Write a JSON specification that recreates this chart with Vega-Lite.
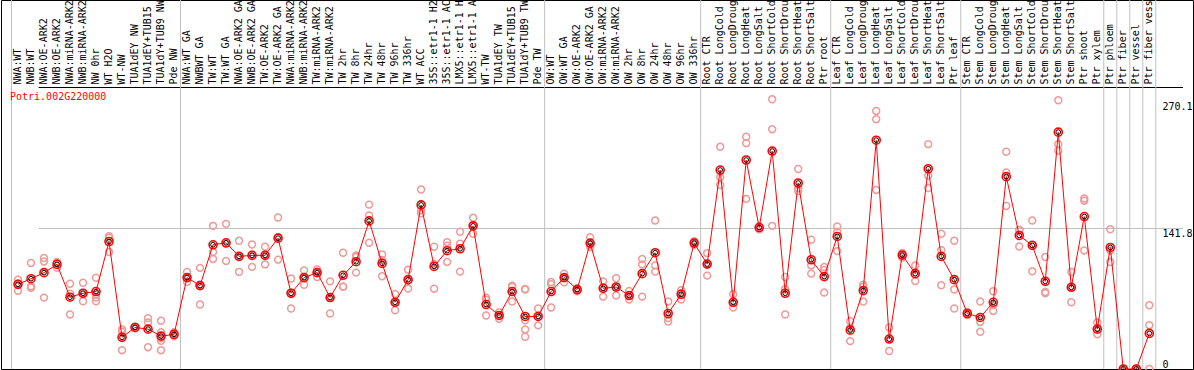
{
  "$schema": "https://vega.github.io/schema/vega-lite/v6.json",
  "width": 1192,
  "height": 369,
  "autosize": {"type": "none"},
  "padding": {"left": 1, "right": 1, "top": 0, "bottom": 1},
  "background": "white",
  "config": {
    "view": {"stroke": "black", "strokeWidth": 1},
    "font": "DejaVu Sans Mono",
    "axis": {"labelFont": "DejaVu Sans Mono", "labelFontSize": 10, "labelColor": "black", "title": null, "ticks": false, "tickSize": 0, "domain": false}
  },
  "datasets": {
    "means": [
      {"s": "NWA:WT", "v": 85.4}, {"s": "NWB:WT", "v": 91.1}, {"s": "NWA:OE-ARK2", "v": 97.2}, {"s": "NWB:OE-ARK2", "v": 105.5},
      {"s": "NWA:miRNA-ARK2", "v": 72.4}, {"s": "NWB:miRNA-ARK2", "v": 76.4}, {"s": "NW 0hr", "v": 78.1}, {"s": "WT H2O", "v": 128.6},
      {"s": "WT-NW", "v": 31.9}, {"s": "TUA1dEY NW", "v": 41.9}, {"s": "TUA1dEY+TUB15 NW", "v": 40.2}, {"s": "TUA1dY+TUB9 NW", "v": 33.2},
      {"s": "Pde NW", "v": 34.9}, {"s": "NWA:WT GA", "v": 92.2}, {"s": "NWBWT GA", "v": 84.1}, {"s": "TW:WT", "v": 125.3},
      {"s": "TW:WT GA", "v": 127.3}, {"s": "NWA:OE-ARK2 GA", "v": 113.6}, {"s": "NWB:OE-ARK2 GA", "v": 114.6}, {"s": "TW:OE-ARK2", "v": 114.6},
      {"s": "TW:OE-ARK2 GA", "v": 132}, {"s": "NWA:miRNA-ARK2 GA", "v": 76.4}, {"s": "NWB:miRNA-ARK2 GA", "v": 92.2}, {"s": "TW:miRNA-ARK2", "v": 97.2},
      {"s": "TW:miRNA-ARK2 GA", "v": 72.1}, {"s": "TW 2hr", "v": 94.5}, {"s": "TW 8hr", "v": 108.2}, {"s": "TW 24hr", "v": 149.4},
      {"s": "TW 48hr", "v": 106.5}, {"s": "TW 96hr", "v": 67.3}, {"s": "TW 336hr", "v": 90.1}, {"s": "WT ACC", "v": 165.5},
      {"s": "35S::etr1-1 H2O", "v": 103.5}, {"s": "35S::etr1-1 ACC", "v": 119.3}, {"s": "LMX5::etr1-1 H2O", "v": 121.3}, {"s": "LMX5::etr1-1 ACC", "v": 144.4},
      {"s": "WT-TW", "v": 65}, {"s": "TUA1dEY TW", "v": 54}, {"s": "TUA1dEY+TUB15 TW", "v": 78.1}, {"s": "TUA1dY+TUB9 TW", "v": 53},
      {"s": "Pde TW", "v": 53}, {"s": "OW:WT", "v": 78.1}, {"s": "OW:WT GA", "v": 92.2}, {"s": "OW:OE-ARK2", "v": 80.1},
      {"s": "OW:OE-ARK2 GA", "v": 127}, {"s": "OW:miRNA-ARK2", "v": 81.4}, {"s": "OW:miRNA-ARK2 GA", "v": 82.7}, {"s": "OW 2hr", "v": 74.1},
      {"s": "OW 8hr", "v": 96.2}, {"s": "OW 24hr", "v": 117.3}, {"s": "OW 48hr", "v": 56}, {"s": "OW 96hr", "v": 75.4},
      {"s": "OW 336hr", "v": 127}, {"s": "Root CTR", "v": 105.8}, {"s": "Root LongCold", "v": 200.7}, {"s": "Root LongDrought", "v": 67.3},
      {"s": "Root LongHeat", "v": 210.8}, {"s": "Root LongSalt", "v": 142.7}, {"s": "Root ShortCold", "v": 219.8}, {"s": "Root ShortDrought", "v": 76.4},
      {"s": "Root ShortHeat", "v": 187.6}, {"s": "Root ShortSalt", "v": 110.2}, {"s": "Ptr root", "v": 93.2}, {"s": "Leaf CTR", "v": 133.7},
      {"s": "Leaf LongCold", "v": 39.2}, {"s": "Leaf LongDrought", "v": 79.1}, {"s": "Leaf LongHeat", "v": 230.8}, {"s": "Leaf LongSalt", "v": 30.2},
      {"s": "Leaf ShortCold", "v": 114.9}, {"s": "Leaf ShortDrought", "v": 96.2}, {"s": "Leaf ShortHeat", "v": 202}, {"s": "Leaf ShortSalt", "v": 113.6},
      {"s": "Ptr leaf", "v": 90.1}, {"s": "Stem CTR", "v": 56}, {"s": "Stem LongCold", "v": 52}, {"s": "Stem LongDrought", "v": 67.3},
      {"s": "Stem LongHeat", "v": 194}, {"s": "Stem LongSalt", "v": 134.7}, {"s": "Stem ShortCold", "v": 124.6}, {"s": "Stem ShortDrought", "v": 88.4},
      {"s": "Stem ShortHeat", "v": 238.9}, {"s": "Stem ShortSalt", "v": 82.4}, {"s": "Ptr shoot", "v": 153.8}, {"s": "Ptr xylem", "v": 40.2},
      {"s": "Ptr phloem", "v": 122.6}, {"s": "Ptr fiber", "v": 0}, {"s": "Ptr vessel", "v": 0}, {"s": "Ptr fiber vessel", "v": 35.9}
    ],
    "reps": [
      {"s": "NWA:WT", "v": 90}, {"s": "NWA:WT", "v": 86}, {"s": "NWA:WT", "v": 79},
      {"s": "NWB:WT", "v": 107}, {"s": "NWB:WT", "v": 83.4}, {"s": "NWB:WT", "v": 82},
      {"s": "NWA:OE-ARK2", "v": 112}, {"s": "NWA:OE-ARK2", "v": 108.5}, {"s": "NWA:OE-ARK2", "v": 72},
      {"s": "NWB:OE-ARK2", "v": 108}, {"s": "NWB:OE-ARK2", "v": 102}, {"s": "NWB:OE-ARK2", "v": 107},
      {"s": "NWA:miRNA-ARK2", "v": 86}, {"s": "NWA:miRNA-ARK2", "v": 76}, {"s": "NWA:miRNA-ARK2", "v": 55},
      {"s": "NWB:miRNA-ARK2", "v": 87}, {"s": "NWB:miRNA-ARK2", "v": 76.7}, {"s": "NWB:miRNA-ARK2", "v": 68.3},
      {"s": "NW 0hr", "v": 92}, {"s": "NW 0hr", "v": 75.4}, {"s": "NW 0hr", "v": 72}, {"s": "NW 0hr", "v": 68.3},
      {"s": "WT H2O", "v": 134}, {"s": "WT H2O", "v": 132.4}, {"s": "WT H2O", "v": 118},
      {"s": "WT-NW", "v": 40}, {"s": "WT-NW", "v": 37.5}, {"s": "WT-NW", "v": 19},
      {"s": "TUA1dEY NW", "v": 43}, {"s": "TUA1dEY NW", "v": 42}, {"s": "TUA1dEY NW", "v": 41},
      {"s": "TUA1dEY+TUB15 NW", "v": 51.3}, {"s": "TUA1dEY+TUB15 NW", "v": 47}, {"s": "TUA1dEY+TUB15 NW", "v": 22},
      {"s": "TUA1dY+TUB9 NW", "v": 48.6}, {"s": "TUA1dY+TUB9 NW", "v": 37}, {"s": "TUA1dY+TUB9 NW", "v": 31}, {"s": "TUA1dY+TUB9 NW", "v": 28.5}, {"s": "TUA1dY+TUB9 NW", "v": 19},
      {"s": "Pde NW", "v": 37}, {"s": "Pde NW", "v": 35}, {"s": "Pde NW", "v": 33},
      {"s": "NWA:WT GA", "v": 97.8}, {"s": "NWA:WT GA", "v": 92.2}, {"s": "NWA:WT GA", "v": 87.7},
      {"s": "NWBWT GA", "v": 102}, {"s": "NWBWT GA", "v": 85}, {"s": "NWBWT GA", "v": 65},
      {"s": "TW:WT", "v": 144.4}, {"s": "TW:WT", "v": 118}, {"s": "TW:WT", "v": 111},
      {"s": "TW:WT GA", "v": 146.4}, {"s": "TW:WT GA", "v": 126.3}, {"s": "TW:WT GA", "v": 109},
      {"s": "NWA:OE-ARK2 GA", "v": 129.3}, {"s": "NWA:OE-ARK2 GA", "v": 113.3}, {"s": "NWA:OE-ARK2 GA", "v": 98},
      {"s": "NWB:OE-ARK2 GA", "v": 125.6}, {"s": "NWB:OE-ARK2 GA", "v": 115.4}, {"s": "NWB:OE-ARK2 GA", "v": 103},
      {"s": "TW:OE-ARK2", "v": 123.3}, {"s": "TW:OE-ARK2", "v": 115}, {"s": "TW:OE-ARK2", "v": 105.5},
      {"s": "TW:OE-ARK2 GA", "v": 152.8}, {"s": "TW:OE-ARK2 GA", "v": 133}, {"s": "TW:OE-ARK2 GA", "v": 110.3},
      {"s": "NWA:miRNA-ARK2 GA", "v": 91.2}, {"s": "NWA:miRNA-ARK2 GA", "v": 77}, {"s": "NWA:miRNA-ARK2 GA", "v": 61},
      {"s": "NWB:miRNA-ARK2 GA", "v": 99.5}, {"s": "NWB:miRNA-ARK2 GA", "v": 92}, {"s": "NWB:miRNA-ARK2 GA", "v": 85},
      {"s": "TW:miRNA-ARK2", "v": 100.5}, {"s": "TW:miRNA-ARK2", "v": 98}, {"s": "TW:miRNA-ARK2", "v": 92.8},
      {"s": "TW:miRNA-ARK2 GA", "v": 88.4}, {"s": "TW:miRNA-ARK2 GA", "v": 72}, {"s": "TW:miRNA-ARK2 GA", "v": 56},
      {"s": "TW 2hr", "v": 117.3}, {"s": "TW 2hr", "v": 83.1}, {"s": "TW 2hr", "v": 83},
      {"s": "TW 8hr", "v": 114.6}, {"s": "TW 8hr", "v": 113}, {"s": "TW 8hr", "v": 97.2},
      {"s": "TW 24hr", "v": 165.8}, {"s": "TW 24hr", "v": 154.8}, {"s": "TW 24hr", "v": 127.3},
      {"s": "TW 48hr", "v": 115.6}, {"s": "TW 48hr", "v": 110}, {"s": "TW 48hr", "v": 93.5},
      {"s": "TW 96hr", "v": 75.7}, {"s": "TW 96hr", "v": 67}, {"s": "TW 96hr", "v": 59.3},
      {"s": "TW 336hr", "v": 100.2}, {"s": "TW 336hr", "v": 89}, {"s": "TW 336hr", "v": 81.1},
      {"s": "WT ACC", "v": 181}, {"s": "WT ACC", "v": 160}, {"s": "WT ACC", "v": 157},
      {"s": "35S::etr1-1 H2O", "v": 123.3}, {"s": "35S::etr1-1 H2O", "v": 106}, {"s": "35S::etr1-1 H2O", "v": 81},
      {"s": "35S::etr1-1 ACC", "v": 128}, {"s": "35S::etr1-1 ACC", "v": 124.3}, {"s": "35S::etr1-1 ACC", "v": 108},
      {"s": "LMX5::etr1-1 H2O", "v": 138.4}, {"s": "LMX5::etr1-1 H2O", "v": 126.3}, {"s": "LMX5::etr1-1 H2O", "v": 98.2},
      {"s": "LMX5::etr1-1 ACC", "v": 152.5}, {"s": "LMX5::etr1-1 ACC", "v": 145}, {"s": "LMX5::etr1-1 ACC", "v": 136.4},
      {"s": "WT-TW", "v": 72}, {"s": "WT-TW", "v": 70}, {"s": "WT-TW", "v": 54},
      {"s": "TUA1dEY TW", "v": 57.3}, {"s": "TUA1dEY TW", "v": 54}, {"s": "TUA1dEY TW", "v": 50.6},
      {"s": "TUA1dEY+TUB15 TW", "v": 84}, {"s": "TUA1dEY+TUB15 TW", "v": 82.7}, {"s": "TUA1dEY+TUB15 TW", "v": 68},
      {"s": "TUA1dY+TUB9 TW", "v": 80.7}, {"s": "TUA1dY+TUB9 TW", "v": 80.1}, {"s": "TUA1dY+TUB9 TW", "v": 49.2}, {"s": "TUA1dY+TUB9 TW", "v": 39.9}, {"s": "TUA1dY+TUB9 TW", "v": 32.5},
      {"s": "Pde TW", "v": 61}, {"s": "Pde TW", "v": 53}, {"s": "Pde TW", "v": 44},
      {"s": "OW:WT", "v": 87.7}, {"s": "OW:WT", "v": 85.4}, {"s": "OW:WT", "v": 62},
      {"s": "OW:WT GA", "v": 96.2}, {"s": "OW:WT GA", "v": 92.2}, {"s": "OW:WT GA", "v": 87.4},
      {"s": "OW:OE-ARK2", "v": 81.5}, {"s": "OW:OE-ARK2", "v": 80}, {"s": "OW:OE-ARK2", "v": 78.5},
      {"s": "OW:OE-ARK2 GA", "v": 133}, {"s": "OW:OE-ARK2 GA", "v": 125.3}, {"s": "OW:OE-ARK2 GA", "v": 123},
      {"s": "OW:miRNA-ARK2", "v": 88.4}, {"s": "OW:miRNA-ARK2", "v": 82.5}, {"s": "OW:miRNA-ARK2", "v": 73},
      {"s": "OW:miRNA-ARK2 GA", "v": 91.5}, {"s": "OW:miRNA-ARK2 GA", "v": 82.5}, {"s": "OW:miRNA-ARK2 GA", "v": 74.1},
      {"s": "OW 2hr", "v": 78.7}, {"s": "OW 2hr", "v": 74}, {"s": "OW 2hr", "v": 70},
      {"s": "OW 8hr", "v": 110.9}, {"s": "OW 8hr", "v": 105.5}, {"s": "OW 8hr", "v": 73},
      {"s": "OW 24hr", "v": 149.7}, {"s": "OW 24hr", "v": 104.5}, {"s": "OW 24hr", "v": 98.2},
      {"s": "OW 48hr", "v": 68}, {"s": "OW 48hr", "v": 51.3}, {"s": "OW 48hr", "v": 47.9},
      {"s": "OW 96hr", "v": 79.4}, {"s": "OW 96hr", "v": 76.5}, {"s": "OW 96hr", "v": 70},
      {"s": "OW 336hr", "v": 129}, {"s": "OW 336hr", "v": 127}, {"s": "OW 336hr", "v": 125},
      {"s": "Root CTR", "v": 116.9}, {"s": "Root CTR", "v": 106}, {"s": "Root CTR", "v": 94.2},
      {"s": "Root LongCold", "v": 224.1}, {"s": "Root LongCold", "v": 193.3}, {"s": "Root LongCold", "v": 185.6},
      {"s": "Root LongDrought", "v": 75.4}, {"s": "Root LongDrought", "v": 67}, {"s": "Root LongDrought", "v": 62},
      {"s": "Root LongHeat", "v": 234.2}, {"s": "Root LongHeat", "v": 227.8}, {"s": "Root LongHeat", "v": 171.6},
      {"s": "Root LongSalt", "v": 144}, {"s": "Root LongSalt", "v": 142.5}, {"s": "Root LongSalt", "v": 141},
      {"s": "Root ShortCold", "v": 272}, {"s": "Root ShortCold", "v": 241.9}, {"s": "Root ShortCold", "v": 144.4},
      {"s": "Root ShortDrought", "v": 92.8}, {"s": "Root ShortDrought", "v": 80.4}, {"s": "Root ShortDrought", "v": 55},
      {"s": "Root ShortHeat", "v": 201.7}, {"s": "Root ShortHeat", "v": 182.2}, {"s": "Root ShortHeat", "v": 179.5},
      {"s": "Root ShortSalt", "v": 130.4}, {"s": "Root ShortSalt", "v": 104.5}, {"s": "Root ShortSalt", "v": 96.2},
      {"s": "Ptr root", "v": 102.8}, {"s": "Ptr root", "v": 100}, {"s": "Ptr root", "v": 77.1},
      {"s": "Leaf CTR", "v": 143.7}, {"s": "Leaf CTR", "v": 138.5}, {"s": "Leaf CTR", "v": 118.9},
      {"s": "Leaf LongCold", "v": 48.2}, {"s": "Leaf LongCold", "v": 41.5}, {"s": "Leaf LongCold", "v": 28.1},
      {"s": "Leaf LongDrought", "v": 85.1}, {"s": "Leaf LongDrought", "v": 83}, {"s": "Leaf LongDrought", "v": 68},
      {"s": "Leaf LongHeat", "v": 260.3}, {"s": "Leaf LongHeat", "v": 252}, {"s": "Leaf LongHeat", "v": 180.6},
      {"s": "Leaf LongSalt", "v": 41.9}, {"s": "Leaf LongSalt", "v": 30.5}, {"s": "Leaf LongSalt", "v": 18.1},
      {"s": "Leaf ShortCold", "v": 117}, {"s": "Leaf ShortCold", "v": 115}, {"s": "Leaf ShortCold", "v": 112.5},
      {"s": "Leaf ShortDrought", "v": 104.5}, {"s": "Leaf ShortDrought", "v": 95.5}, {"s": "Leaf ShortDrought", "v": 88.8},
      {"s": "Leaf ShortHeat", "v": 226.8}, {"s": "Leaf ShortHeat", "v": 195}, {"s": "Leaf ShortHeat", "v": 182.6},
      {"s": "Leaf ShortSalt", "v": 136.4}, {"s": "Leaf ShortSalt", "v": 120}, {"s": "Leaf ShortSalt", "v": 84.4},
      {"s": "Ptr leaf", "v": 129.3}, {"s": "Ptr leaf", "v": 80.1}, {"s": "Ptr leaf", "v": 61},
      {"s": "Stem CTR", "v": 57.5}, {"s": "Stem CTR", "v": 56}, {"s": "Stem CTR", "v": 54.5},
      {"s": "Stem LongCold", "v": 68}, {"s": "Stem LongCold", "v": 47.5}, {"s": "Stem LongCold", "v": 37.5},
      {"s": "Stem LongDrought", "v": 78.4}, {"s": "Stem LongDrought", "v": 64.5}, {"s": "Stem LongDrought", "v": 58.6},
      {"s": "Stem LongHeat", "v": 219.1}, {"s": "Stem LongHeat", "v": 198.3}, {"s": "Stem LongHeat", "v": 164.5},
      {"s": "Stem LongSalt", "v": 140.4}, {"s": "Stem LongSalt", "v": 140}, {"s": "Stem LongSalt", "v": 123.6},
      {"s": "Stem ShortCold", "v": 149.7}, {"s": "Stem ShortCold", "v": 125.5}, {"s": "Stem ShortCold", "v": 98.5},
      {"s": "Stem ShortDrought", "v": 112.9}, {"s": "Stem ShortDrought", "v": 77.7}, {"s": "Stem ShortDrought", "v": 76.4},
      {"s": "Stem ShortHeat", "v": 271}, {"s": "Stem ShortHeat", "v": 226.8}, {"s": "Stem ShortHeat", "v": 220.1},
      {"s": "Stem ShortSalt", "v": 97.8}, {"s": "Stem ShortSalt", "v": 82.4}, {"s": "Stem ShortSalt", "v": 67.3},
      {"s": "Ptr shoot", "v": 169.8}, {"s": "Ptr shoot", "v": 172}, {"s": "Ptr shoot", "v": 119.6},
      {"s": "Ptr xylem", "v": 47}, {"s": "Ptr xylem", "v": 41}, {"s": "Ptr xylem", "v": 35},
      {"s": "Ptr phloem", "v": 141}, {"s": "Ptr phloem", "v": 119.6}, {"s": "Ptr phloem", "v": 107.9},
      {"s": "Ptr fiber", "v": 0}, {"s": "Ptr fiber", "v": 0}, {"s": "Ptr fiber", "v": 0},
      {"s": "Ptr vessel", "v": 0}, {"s": "Ptr vessel", "v": 0}, {"s": "Ptr vessel", "v": 0},
      {"s": "Ptr fiber vessel", "v": 64.3}, {"s": "Ptr fiber vessel", "v": 44.2}, {"s": "Ptr fiber vessel", "v": 0}
    ],
    "seps": [
      {"s": "NWA:WT"}, {"s": "NWA:WT GA"}, {"s": "OW:WT"}, {"s": "Root CTR"}, {"s": "Leaf CTR"},
      {"s": "Stem CTR"}, {"s": "Ptr phloem"}, {"s": "Ptr fiber"}, {"s": "Ptr vessel"}, {"s": "Ptr fiber vessel"}
    ],
    "lastsep": [{"s": "Ptr fiber vessel"}],
    "label": [{"s": "NWA:WT", "t": "Potri.002G220000"}]
  },
  "encoding": {
    "x": {
      "field": "s",
      "type": "nominal",
      "sort": null,
      "scale": {
        "type": "band",
        "domain": ["NWA:WT","NWB:WT","NWA:OE-ARK2","NWB:OE-ARK2","NWA:miRNA-ARK2","NWB:miRNA-ARK2","NW 0hr","WT H2O","WT-NW","TUA1dEY NW","TUA1dEY+TUB15 NW","TUA1dY+TUB9 NW","Pde NW","NWA:WT GA","NWBWT GA","TW:WT","TW:WT GA","NWA:OE-ARK2 GA","NWB:OE-ARK2 GA","TW:OE-ARK2","TW:OE-ARK2 GA","NWA:miRNA-ARK2 GA","NWB:miRNA-ARK2 GA","TW:miRNA-ARK2","TW:miRNA-ARK2 GA","TW 2hr","TW 8hr","TW 24hr","TW 48hr","TW 96hr","TW 336hr","WT ACC","35S::etr1-1 H2O","35S::etr1-1 ACC","LMX5::etr1-1 H2O","LMX5::etr1-1 ACC","WT-TW","TUA1dEY TW","TUA1dEY+TUB15 TW","TUA1dY+TUB9 TW","Pde TW","OW:WT","OW:WT GA","OW:OE-ARK2","OW:OE-ARK2 GA","OW:miRNA-ARK2","OW:miRNA-ARK2 GA","OW 2hr","OW 8hr","OW 24hr","OW 48hr","OW 96hr","OW 336hr","Root CTR","Root LongCold","Root LongDrought","Root LongHeat","Root LongSalt","Root ShortCold","Root ShortDrought","Root ShortHeat","Root ShortSalt","Ptr root","Leaf CTR","Leaf LongCold","Leaf LongDrought","Leaf LongHeat","Leaf LongSalt","Leaf ShortCold","Leaf ShortDrought","Leaf ShortHeat","Leaf ShortSalt","Ptr leaf","Stem CTR","Stem LongCold","Stem LongDrought","Stem LongHeat","Stem LongSalt","Stem ShortCold","Stem ShortDrought","Stem ShortHeat","Stem ShortSalt","Ptr shoot","Ptr xylem","Ptr phloem","Ptr fiber","Ptr vessel","Ptr fiber vessel"],
        "range": [10.5, 1154.8],
        "paddingInner": 0,
        "paddingOuter": 0
      },
      "axis": {
        "orient": "top",
        "labelAngle": -90,
        "labelAlign": "left",
        "labelBaseline": "middle",
        "labelPadding": -84,
        "grid": false,
        "labelOverlap": false,
        "labelBound": false
      }
    }
  },
  "layer": [
    {
      "data": {"name": "seps"},
      "mark": {"type": "rule", "color": "#c0c0c0", "strokeWidth": 1},
      "encoding": {
        "x": {"field": "s", "type": "nominal", "sort": null, "bandPosition": 0, "scale": {"type": "band"},
          "axis": {"orient": "top", "labelAngle": -90, "labelAlign": "left", "labelBaseline": "middle", "labelPadding": -84, "grid": false, "labelOverlap": false, "labelBound": false}}
      }
    },
    {
      "data": {"name": "lastsep"},
      "mark": {"type": "rule", "color": "#c0c0c0", "strokeWidth": 1},
      "encoding": {
        "x": {"field": "s", "type": "nominal", "sort": null, "bandPosition": 1, "scale": {"type": "band"},
          "axis": {"orient": "top", "labelAngle": -90, "labelAlign": "left", "labelBaseline": "middle", "labelPadding": -84, "grid": false, "labelOverlap": false, "labelBound": false}}
      }
    },
    {
      "data": {"name": "reps"},
      "mark": {"type": "point", "shape": "circle", "filled": false, "color": "#f09a9a", "size": 48, "strokeWidth": 1.5, "opacity": 1},
      "encoding": {
        "y": {
          "field": "v",
          "type": "quantitative",
          "scale": {"domain": [0, 372.2], "nice": false, "zero": true},
          "axis": {
            "orient": "right",
            "values": [0, 141.8, 270.1, 284.9],
            "grid": true,
            "gridColor": {"condition": {"test": "datum.value > 284", "value": "black"}, "value": "#c0c0c0"},
            "gridOpacity": {"condition": {"test": "datum.value == 141.8 || datum.value > 284", "value": 1}, "value": 0},
            "labelExpr": "datum.value > 284 ? '' : (datum.value == 0 ? '0' : format(datum.value, '.1f'))",
            "labelPadding": -31,
            "labelAlign": "left",
            "labelBaseline": {"condition": {"test": "datum.value == 0", "value": "bottom"}, "value": "top"}
          }
        }
      }
    },
    {
      "data": {"name": "means"},
      "encoding": {"y": {"field": "v", "type": "quantitative"}},
      "layer": [
        {"mark": {"type": "line", "color": "#ff0000", "strokeWidth": 1}},
        {"mark": {"type": "point", "shape": "circle", "filled": false, "color": "#ff0000", "size": 64, "strokeWidth": 1.6, "opacity": 1}},
        {"mark": {"type": "point", "shape": "circle", "filled": false, "color": "#000000", "size": 22, "strokeWidth": 1, "opacity": 1}}
      ]
    },
    {
      "data": {"name": "label"},
      "mark": {"type": "text", "color": "#ff0000", "font": "DejaVu Sans Mono", "fontSize": 10, "align": "left", "baseline": "alphabetic", "dx": -8},
      "encoding": {
        "y": {"datum": 271.3, "type": "quantitative"},
        "text": {"field": "t"}
      }
    }
  ]
}
